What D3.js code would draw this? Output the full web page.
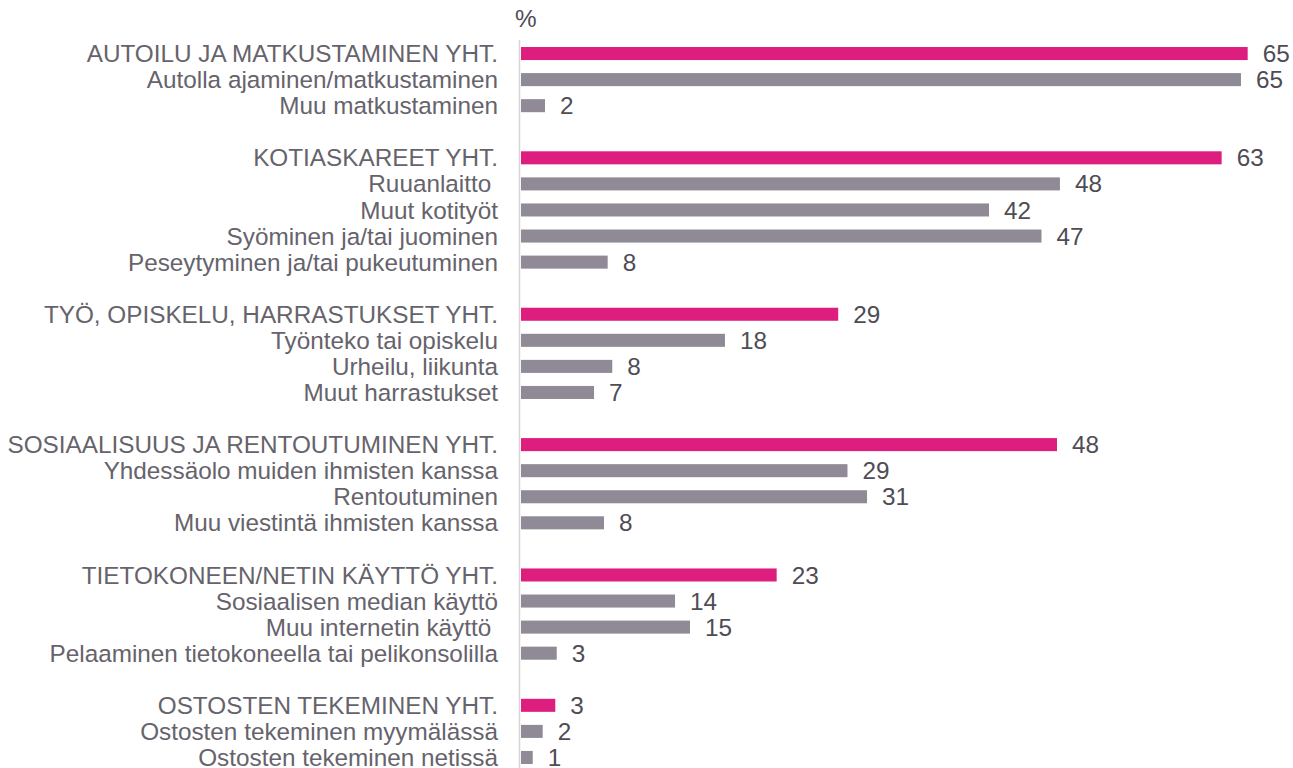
<!DOCTYPE html>
<html>
<head>
<meta charset="utf-8">
<script src="https://cdn.jsdelivr.net/npm/d3@7"></script>
<style>
  body { margin: 0; background: #fff; }
  svg text { font-family: "Liberation Sans", Arial, sans-serif; white-space: pre; }
</style>
</head>
<body>
<svg id="chart"></svg>
<script>
// DATA ("" = empty spacer row between groups)
const categories = [
    "AUTOILU JA MATKUSTAMINEN YHT.", "Autolla ajaminen/matkustaminen", "Muu matkustaminen", "",
    "KOTIASKAREET YHT.", "Ruuanlaitto ", "Muut kotityöt", "Syöminen ja/tai juominen", "Peseytyminen ja/tai pukeutuminen", "",
    "TYÖ, OPISKELU, HARRASTUKSET YHT.", "Työnteko tai opiskelu", "Urheilu, liikunta", "Muut harrastukset", "",
    "SOSIAALISUUS JA RENTOUTUMINEN YHT.", "Yhdessäolo muiden ihmisten kanssa", "Rentoutuminen", "Muu viestintä ihmisten kanssa", "",
    "TIETOKONEEN/NETIN KÄYTTÖ YHT.", "Sosiaalisen median käyttö", "Muu internetin käyttö ", "Pelaaminen tietokoneella tai pelikonsolilla", "",
    "OSTOSTEN TEKEMINEN YHT.", "Ostosten tekeminen myymälässä", "Ostosten tekeminen netissä"
]
const values = [
    65.06, 64.46, 2.15, null,
    62.73, 48.25, 41.9, 46.6, 7.76, null,
    28.4, 18.26, 8.17, 6.54, null,
    47.99, 29.23, 30.98, 7.43, null,
    22.89, 13.79, 15.13, 3.2, null,
    3.07, 1.94, 1.05
]
const valueLabels = [
    "65", "65", "2", "",
    "63", "48", "42", "47", "8", "",
    "29", "18", "8", "7", "",
    "48", "29", "31", "8", "",
    "23", "14", "15", "3", "",
    "3", "2", "1"
]
const unitLabel = "%"

let svgWidth = 1293
let svgHeight = 768

let chart = d3.select('#chart')
    .attr('width', svgWidth)
    .attr('height', svgHeight)

let rows = categories.map((label, i) => ({
    idx: i, label: label, value: values[i], text: valueLabels[i],
    total: label.endsWith("YHT.")
}))

// SCALES
let x = d3.scaleLinear()
    .domain([0, 65])
    .range([520, 1246])
let y = d3.scaleBand()
    .domain(rows.map(d => d.idx))
    .range([40.5, 770.5])
    .paddingInner(0.5)
    .paddingOuter(0.25)

let magenta = '#dd1e7e'
let grey = '#8f8a96'
let fontSize = 24.3

// AXIS LINE
chart.append('g')
    .attr('transform', 'translate(519.5,0)')
    .call(d3.axisLeft(y).tickSize(0).tickFormat(''))
    .call(g => g.select('.domain').attr('stroke', '#d6d6d6').attr('stroke-width', 1.5).attr('d', 'M0,40V768'))

// "%" LABEL
chart.append('text')
    .attr('x', 515)
    .attr('y', 27)
    .attr('fill', '#4f4c55')
    .attr('font-size', fontSize)
    .text(unitLabel)

let dataRows = rows.filter(d => d.value !== null)

// BARS
chart.append('g')
    .selectAll('rect')
    .data(dataRows)
    .join('rect')
        .attr('x', x(0) + 1)
        .attr('y', d => y(d.idx))
        .attr('width', d => x(d.value) - x(0))
        .attr('height', y.bandwidth())
        .attr('fill', d => d.total ? magenta : grey)

// CATEGORY LABELS
chart.append('g')
    .selectAll('text')
    .data(dataRows)
    .join('text')
        .attr('x', 498)
        .attr('y', d => y(d.idx) + y.bandwidth() / 2 + 8.6)
        .attr('text-anchor', 'end')
        .attr('fill', '#66636c')
        .attr('font-size', fontSize)
        .text(d => d.label)

// VALUE LABELS
chart.append('g')
    .selectAll('text')
    .data(dataRows)
    .join('text')
        .attr('x', d => x(d.value) + 16)
        .attr('y', d => y(d.idx) + y.bandwidth() / 2 + 8.6)
        .attr('fill', '#4f4c55')
        .attr('font-size', fontSize)
        .text(d => d.text)
</script>
</body>
</html>
